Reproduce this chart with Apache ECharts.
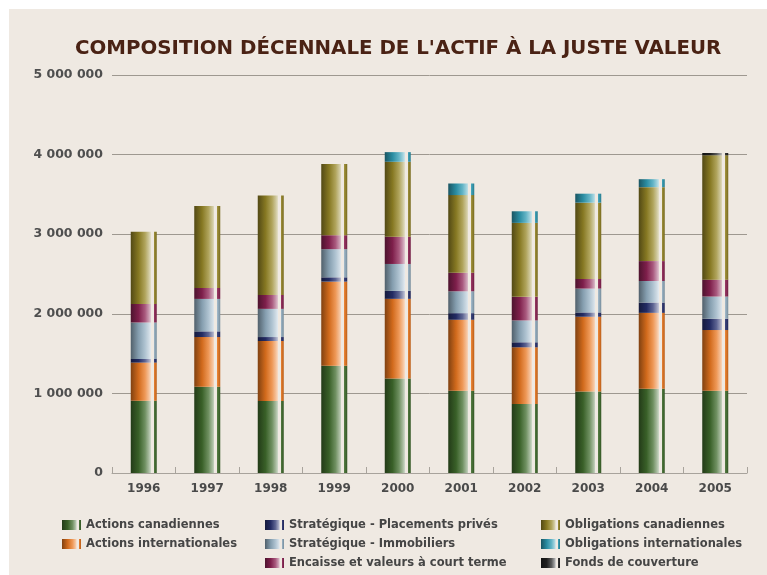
<!DOCTYPE html>
<html>
<head>
<meta charset="utf-8">
<script src="https://cdn.jsdelivr.net/npm/echarts@6/dist/echarts.min.js"></script>
<style>
  html, body { margin: 0; padding: 0; background: #fff; }
  #chart { width: 767px; height: 575px; }
</style>
</head>
<body>
<div id="chart"></div>
<script>
const years = ["1996", "1997", "1998", "1999", "2000", "2001", "2002", "2003", "2004", "2005"];
const yTicks = [0, 1000000, 2000000, 3000000, 4000000, 5000000];

const actionsCanadiennes = [908000, 1083000, 904000, 1346000, 1188000, 1033000, 867000, 1025000, 1058000, 1033000];
const actionsInternationales = [479000, 625000, 754000, 1058000, 1000000, 892000, 712000, 938000, 954000, 763000];
const placementsPrives = [46000, 71000, 50000, 54000, 100000, 83000, 63000, 54000, 129000, 142000];
const immobiliers = [458000, 408000, 354000, 354000, 338000, 275000, 275000, 300000, 271000, 279000];
const encaisse = [233000, 138000, 175000, 175000, 342000, 233000, 296000, 121000, 250000, 212000];
const obligationsCanadiennes = [908000, 1029000, 1250000, 896000, 942000, 975000, 929000, 958000, 929000, 1562000];
const obligationsInternationales = [0, 0, 0, 0, 121000, 146000, 146000, 113000, 100000, 0];
const fondsCouverture = [0, 0, 0, 0, 0, 0, 0, 0, 0, 29000];

const BG = "#efe9e2";

// mix a hex colour with white (f>0) or black (f<0)
function mix(hex, f) {
  let r = parseInt(hex.slice(1, 3), 16), g = parseInt(hex.slice(3, 5), 16), b = parseInt(hex.slice(5, 7), 16);
  const t = f > 0 ? 255 : 0, a = Math.abs(f);
  r = Math.round(r + (t - r) * a); g = Math.round(g + (t - g) * a); b = Math.round(b + (t - b) * a);
  return "rgb(" + r + "," + g + "," + b + ")";
}

// dark-to-light tube with a thin gap near the right edge
function tube(hex) {
  return new echarts.graphic.LinearGradient(0, 0, 1, 0, [
    { offset: 0, color: mix(hex, -0.45) },
    { offset: 0.3, color: mix(hex, -0.1) },
    { offset: 0.55, color: mix(hex, 0.25) },
    { offset: 0.7, color: mix(hex, 0.55) },
    { offset: 0.76, color: mix(hex, 0.7) },
    { offset: 0.77, color: BG },
    { offset: 0.88, color: BG },
    { offset: 0.89, color: mix(hex, 0.1) },
    { offset: 1, color: mix(hex, -0.2) }
  ]);
}

const seriesDefs = [
  ["Actions canadiennes", actionsCanadiennes, "#3f6b2c"],
  ["Actions internationales", actionsInternationales, "#e8761f"],
  ["Stratégique - Placements privés", placementsPrives, "#27306e"],
  ["Stratégique - Immobiliers", immobiliers, "#94afc2"],
  ["Encaisse et valeurs à court terme", encaisse, "#8c2253"],
  ["Obligations canadiennes", obligationsCanadiennes, "#958526"],
  ["Obligations internationales", obligationsInternationales, "#2f9bb3"],
  ["Fonds de couverture", fondsCouverture, "#222222"]
];

const icon = "path://M0,0h15v10h-15z M17,0h2v10h-2z";
const legendText = { fontFamily: "DejaVu Sans", fontSize: 11.5, fontWeight: "bold", color: "#454545" };
function legendAt(left, names) {
  return {
    left: left, top: 514, orient: "vertical", itemGap: 7, itemWidth: 19, itemHeight: 10,
    itemTextGap: 13, icon: icon, data: names, textStyle: legendText, selectedMode: false
  };
}

function fmt(v) {
  return String(v).replace(/\B(?=(\d{3})+(?!\d))/g, " ");
}

const chart = echarts.init(document.getElementById("chart"));
chart.setOption({
  backgroundColor: "#ffffff",
  animation: false,
  graphic: [{
    type: "rect", left: 9, top: 9, z: -10, silent: true,
    shape: { width: 758, height: 566 }, style: { fill: BG }
  }],
  title: {
    text: "COMPOSITION DÉCENNALE DE L'ACTIF À LA JUSTE VALEUR",
    left: 70, top: 34,
    textStyle: { fontFamily: "DejaVu Sans", fontWeight: "bold", fontSize: 19.8, color: "#4a2214" }
  },
  legend: [
    legendAt(57, ["Actions canadiennes", "Actions internationales"]),
    legendAt(260, ["Stratégique - Placements privés", "Stratégique - Immobiliers", "Encaisse et valeurs à court terme"]),
    legendAt(536, ["Obligations canadiennes", "Obligations internationales", "Fonds de couverture"])
  ],
  grid: { left: 112, right: 20, top: 75, bottom: 102 },
  xAxis: {
    type: "category", data: years,
    axisLine: { lineStyle: { color: "#a8a39c", width: 1 } },
    axisTick: { show: true, inside: true, length: 6, lineStyle: { color: "#a8a39c" } },
    axisLabel: { margin: 10, fontFamily: "DejaVu Sans", fontSize: 12, fontWeight: "bold", color: "#4a4a4a" }
  },
  yAxis: {
    type: "value", min: yTicks[0], max: yTicks[yTicks.length - 1], interval: 1000000,
    axisLine: { show: false }, axisTick: { show: false },
    splitLine: { lineStyle: { color: "#9e9890", width: 1 } },
    axisLabel: { margin: 9, formatter: fmt, fontFamily: "DejaVu Sans", fontSize: 12.5, fontWeight: "bold", color: "#4f4f4f" }
  },
  series: seriesDefs.map(function (d) {
    return {
      name: d[0], type: "bar", stack: "actif", data: d[1], barWidth: 26,
      itemStyle: { color: tube(d[2]) }
    };
  })
});
</script>
</body>
</html>
